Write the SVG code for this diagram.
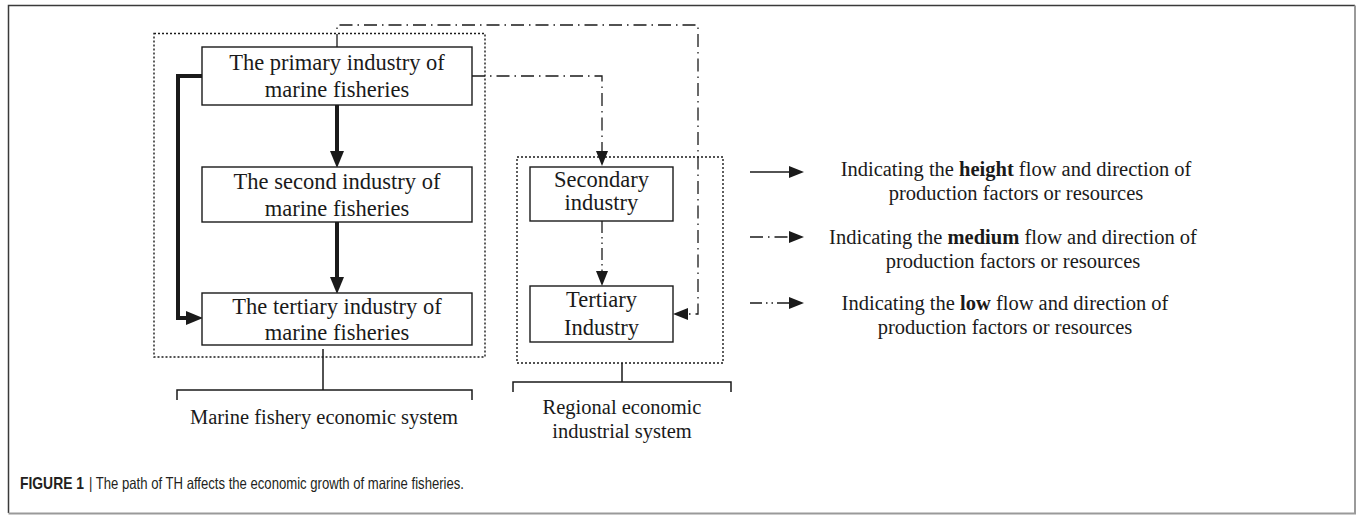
<svg xmlns="http://www.w3.org/2000/svg" width="1357" height="515" viewBox="0 0 1357 515">
  <style>
    .box { fill: #ffffff; stroke: #1a1a1a; stroke-width: 1.4; }
    .group { fill: none; stroke: #1a1a1a; stroke-width: 1.4; stroke-dasharray: 2 2; }
    .bracket { fill: none; stroke: #1a1a1a; stroke-width: 1.5; }
    .high { fill: none; stroke: #1a1a1a; stroke-width: 4; }
    .high-thin { fill: none; stroke: #1a1a1a; stroke-width: 1.6; }
    .medium { fill: none; stroke: #1a1a1a; stroke-width: 1.3; stroke-dasharray: 13 5 1.5 5; }
    .low { fill: none; stroke: #1a1a1a; stroke-width: 1.3; stroke-dasharray: 12 4 1.5 4 1.5 4; }
    .label { font-family: "Liberation Serif", "Times New Roman", serif; font-size: 22.5px; fill: #1a1a1a; text-anchor: middle; }
    .sys { font-family: "Liberation Serif", "Times New Roman", serif; font-size: 20.5px; fill: #1a1a1a; text-anchor: middle; }
    .legend { font-family: "Liberation Serif", "Times New Roman", serif; font-size: 20.5px; fill: #1a1a1a; text-anchor: middle; }
    .caption { font-family: "Liberation Sans", Arial, sans-serif; font-size: 16.5px; fill: #231f20; }
  </style>
  <defs>
    <marker id="head-thick" markerUnits="userSpaceOnUse" markerWidth="17" markerHeight="14" refX="6" refY="7" orient="auto">
      <path d="M0,0 L17,7 L0,14 Z" fill="#1a1a1a"/>
    </marker>
    <marker id="head-thin" markerUnits="userSpaceOnUse" markerWidth="15" markerHeight="12" refX="6" refY="6" orient="auto">
      <path d="M0,0 L15,6 L0,12 Z" fill="#1a1a1a"/>
    </marker>
  </defs>

  <!-- outer figure frame -->
  <g id="frame">
    <path d="M8.5,513 V5.5 H1355" fill="none" stroke="#3a3a3a" stroke-width="1.5"/>
    <path d="M1355,5.5 V513.5 H8.5" fill="none" stroke="#9a9a9a" stroke-width="2"/>
  </g>

  <!-- system groupings -->
  <g id="marine-system">
    <rect class="group" x="154" y="33.5" width="331" height="323.5"/>
    <path class="bracket" d="M323,349 V390 M177,400 V390 H472 V400"/>
    <text class="sys" x="324" y="424">Marine fishery economic system</text>
  </g>
  <g id="regional-system">
    <rect class="group" x="517" y="157" width="206" height="206"/>
    <path class="bracket" d="M622,363 V382 M513,392 V382 H731 V392"/>
    <text class="sys" x="622" y="414">Regional economic</text>
    <text class="sys" x="622" y="438">industrial system</text>
  </g>

  <!-- connectors -->
  <g id="connectors">
    <path class="high" d="M337,105 V157" marker-end="url(#head-thick)"/>
    <path class="high" d="M337,222 V283" marker-end="url(#head-thick)"/>
    <path class="high" d="M202,76 H178 V318 H192" marker-end="url(#head-thick)"/>
    <path class="medium" d="M337,47 V25 H698 V314 H682" marker-end="url(#head-thin)"/>
    <path class="medium" d="M472,76 H602 V157" marker-end="url(#head-thin)"/>
    <path class="low" d="M602,221 V277" marker-end="url(#head-thin)"/>
  </g>

  <!-- marine fishery industries -->
  <g id="primary-industry">
    <rect class="box" x="202" y="47" width="270" height="58"/>
    <text class="label" x="337" y="70">The primary industry of</text>
    <text class="label" x="337" y="97">marine fisheries</text>
  </g>
  <g id="second-industry">
    <rect class="box" x="202" y="167" width="270" height="55"/>
    <text class="label" x="337" y="189">The second industry of</text>
    <text class="label" x="337" y="216">marine fisheries</text>
  </g>
  <g id="tertiary-industry">
    <rect class="box" x="202" y="293" width="270" height="52"/>
    <text class="label" x="337" y="314">The tertiary industry of</text>
    <text class="label" x="337" y="340">marine fisheries</text>
  </g>

  <!-- regional industries -->
  <g id="secondary-regional">
    <rect class="box" x="530" y="167" width="143" height="54"/>
    <text class="label" x="601.5" y="187">Secondary</text>
    <text class="label" x="601.5" y="210">industry</text>
  </g>
  <g id="tertiary-regional">
    <rect class="box" x="530" y="286" width="143" height="56"/>
    <text class="label" x="601.5" y="307">Tertiary</text>
    <text class="label" x="601.5" y="335">Industry</text>
  </g>

  <!-- legend -->
  <g id="legend">
    <path class="high-thin" d="M750,172 H795" marker-end="url(#head-thin)"/>
    <text class="legend" x="1016" y="175.5">Indicating the <tspan font-weight="bold">height</tspan> flow and direction of</text>
    <text class="legend" x="1016" y="199.5">production factors or resources</text>
    <path class="medium" d="M750,237 H795" marker-end="url(#head-thin)"/>
    <text class="legend" x="1013" y="243.5">Indicating the <tspan font-weight="bold">medium</tspan> flow and direction of</text>
    <text class="legend" x="1013" y="267.5">production factors or resources</text>
    <path class="low" d="M750,303 H795" marker-end="url(#head-thin)"/>
    <text class="legend" x="1005" y="309.5">Indicating the <tspan font-weight="bold">low</tspan> flow and direction of</text>
    <text class="legend" x="1005" y="333.5">production factors or resources</text>
  </g>

  <!-- caption -->
  <g id="caption">
    <text class="caption" x="20" y="489" font-weight="bold" textLength="64" lengthAdjust="spacingAndGlyphs">FIGURE 1</text>
    <text class="caption" x="89" y="489" textLength="375" lengthAdjust="spacingAndGlyphs">| The path of TH affects the economic growth of marine fisheries.</text>
  </g>
</svg>
